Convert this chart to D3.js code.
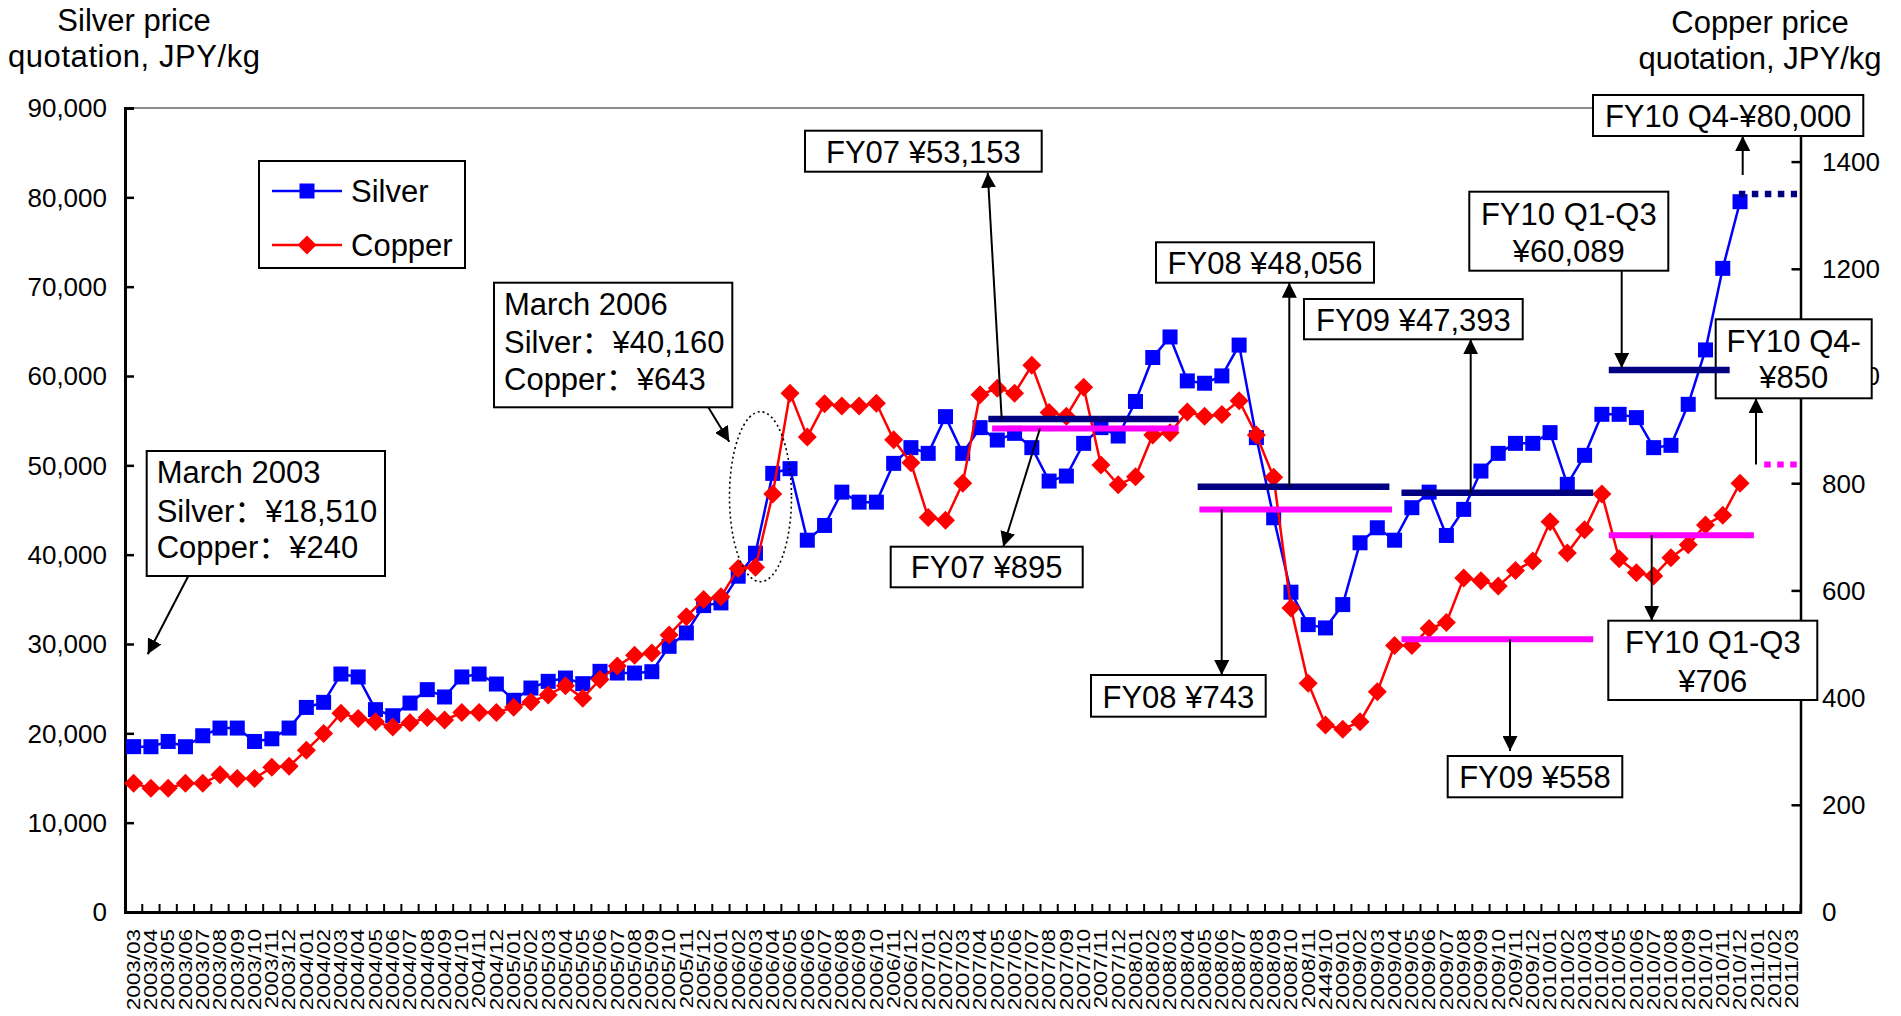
<!DOCTYPE html>
<html><head><meta charset="utf-8">
<script src="https://cdn.jsdelivr.net/npm/d3@7"></script>
<style>
html,body{margin:0;padding:0;background:#fff;}
svg{display:block;}
text{font-family:"Liberation Sans",Arial,"Noto Sans CJK SC",sans-serif;fill:#000;}
</style>
</head><body>
<svg id="chart" width="1901" height="1016"></svg>
<script>
// ---------------- data ----------------
const months = [
"2003/03","2003/04","2003/05","2003/06","2003/07","2003/08","2003/09","2003/10","2003/11","2003/12",
"2004/01","2004/02","2004/03","2004/04","2004/05","2004/06","2004/07","2004/08","2004/09","2004/10","2004/11","2004/12",
"2005/01","2005/02","2005/03","2005/04","2005/05","2005/06","2005/07","2005/08","2005/09","2005/10","2005/11","2005/12",
"2006/01","2006/02","2006/03","2006/04","2006/05","2006/06","2006/07","2006/08","2006/09","2006/10","2006/11","2006/12",
"2007/01","2007/02","2007/03","2007/04","2007/05","2007/06","2007/07","2007/08","2007/09","2007/10","2007/11","2007/12",
"2008/01","2008/02","2008/03","2008/04","2008/05","2008/06","2008/07","2008/08","2008/09","2008/10","2008/11","2449/10",
"2009/01","2009/02","2009/03","2009/04","2009/05","2009/06","2009/07","2009/08","2009/09","2009/10","2009/11","2009/12",
"2010/01","2010/02","2010/03","2010/04","2010/05","2010/06","2010/07","2010/08","2010/09","2010/10","2010/11","2010/12",
"2011/01","2011/02","2011/03"];

const silver = [
18510,18500,19090,18500,19730,20590,20590,19090,19390,20590,
22900,23470,26640,26310,22650,21970,23390,24890,24070,26310,26640,25520,
23700,25070,25820,26190,25560,26940,26750,26750,26900,29740,31240,34300,
34600,37590,40160,49100,49630,41620,43270,47000,45880,45880,50220,51980,
51340,55450,51340,54220,52830,53580,51980,48240,48800,52460,54220,53280,
57150,62070,64370,59450,59190,60010,63460,53100,44130,35800,32170,31800,
34410,41330,43010,41620,45260,47000,42150,45070,49360,51340,52460,52460,
53660,47870,51120,55710,55710,55340,51980,52240,56830,62920,72050,79510];

const copper = [
240,231,231,240,240,256,249,249,270,272,
302,333,371,361,355,345,353,363,358,372,372,372,
382,392,405,422,399,434,459,479,483,517,551,583,
588,641,643,780,968,886,948,944,944,949,881,838,
736,731,800,965,977,968,1020,932,925,979,834,797,
812,890,894,933,925,928,954,890,811,567,427,349,
341,355,411,497,497,529,540,623,618,608,637,655,
728,670,713,780,659,633,627,661,685,722,740,800];

const silverTicks = [0,10000,20000,30000,40000,50000,60000,70000,80000,90000];
const copperTicks = [0,200,400,600,800,1000,1200,1400];

// period average lines as drawn in the picture (fractional category spans)
const periods        = ["FY07","FY08","FY09","FY10 Q1-Q3","FY10 Q4"];
const silverAvgDrawn = [55200, 47610, 46940, 60680, 80380];
const silverAvgFrom  = [49.48, 61.6, 73.4, 85.4, 92.93];
const silverAvgTo    = [60.5, 72.7, 84.5, 92.4, 96.3];
const copperAvgDrawn = [902, 751, 509, 703, 835];
const copperAvgFrom  = [49.7, 61.7, 73.4, 85.4, 94.4];
const copperAvgTo    = [60.5, 72.85, 84.5, 93.8, 96.3];

// ---------------- chart ----------------
const svg = d3.select("#chart");
const X0 = 125, X1 = 1800.5, Y0 = 912, Y1 = 108;

const x = d3.scaleBand().domain(d3.range(months.length)).range([X0, X1]).padding(0);
const xf = d3.scaleLinear().domain([-0.5, months.length - 0.5]).range([X0, X1]);
const yS = d3.scaleLinear().domain([0, 90000]).range([Y0, Y1]);
const yC = d3.scaleLinear().domain([0, 1500]).range([Y0, Y1]);
const cx = i => x(i) + x.bandwidth() / 2;

const defs = svg.append("defs");
defs.append("marker").attr("id","arr").attr("viewBox","0 0 10 10")
  .attr("refX",10).attr("refY",5).attr("markerWidth",15).attr("markerHeight",15)
  .attr("markerUnits","userSpaceOnUse").attr("orient","auto")
  .append("path").attr("d","M0,0 L10,5 L0,10 z").attr("fill","#000");

// top border
svg.append("line").attr("x1",X0).attr("x2",X1).attr("y1",Y1).attr("y2",Y1)
  .attr("stroke","#8c8c8c").attr("stroke-width",2);

// left axis
const gL = svg.append("g").attr("transform",`translate(${X0},0)`)
  .call(d3.axisRight(yS).tickValues(silverTicks).tickSize(9).tickFormat(""));
gL.select(".domain").attr("stroke","#000").attr("stroke-width",3);
gL.selectAll(".tick line").attr("stroke","#000").attr("stroke-width",2.5);
svg.append("g").selectAll("text").data(silverTicks).join("text")
  .attr("x",107).attr("y",d=>yS(d)).attr("dy","0.36em").attr("text-anchor","end")
  .attr("font-size",26).text(d=>d3.format(",")(d));

// right axis
const gR = svg.append("g").attr("transform",`translate(${X1},0)`)
  .call(d3.axisLeft(yC).tickValues(copperTicks).tickSize(9).tickFormat(""));
gR.select(".domain").attr("stroke","#000").attr("stroke-width",2.5);
gR.selectAll(".tick line").attr("stroke","#000").attr("stroke-width",2.5);
svg.append("g").selectAll("text").data(copperTicks).join("text")
  .attr("x",1822).attr("y",d=>yC(d)).attr("dy","0.36em").attr("text-anchor","start")
  .attr("font-size",26).text(d=>d);

// bottom axis
const gB = svg.append("g").attr("transform",`translate(0,${Y0})`)
  .call(d3.axisTop(x).tickSize(0).tickFormat(""));
gB.select(".domain").attr("stroke","#000").attr("stroke-width",3);
const bounds = d3.range(months.length + 1);
svg.append("g").selectAll("line").data(bounds).join("line")
  .attr("x1",d=>xf(d-0.5)).attr("x2",d=>xf(d-0.5)).attr("y1",Y0).attr("y2",Y0-8)
  .attr("stroke","#000").attr("stroke-width",2);
svg.append("g").selectAll("text").data(months).join("text")
  .attr("transform",(d,i)=>`translate(${cx(i)},929) rotate(-90) scale(1.25,1)`)
  .attr("text-anchor","end").attr("dy","0.35em").attr("font-size",18).text(d=>d);

// axis titles
const titleL = svg.append("text").attr("text-anchor","middle").attr("font-size",31);
titleL.append("tspan").attr("x",134).attr("y",31).text("Silver price");
titleL.append("tspan").attr("x",134).attr("y",67).attr("textLength",252).text("quotation, JPY/kg");
const titleR = svg.append("text").attr("text-anchor","middle").attr("font-size",31);
titleR.append("tspan").attr("x",1760).attr("y",33).text("Copper price");
titleR.append("tspan").attr("x",1760).attr("y",69).text("quotation, JPY/kg");

// series
const lineS = d3.line().x((d,i)=>cx(i)).y(d=>yS(d));
const lineC = d3.line().x((d,i)=>cx(i)).y(d=>yC(d));
svg.append("path").datum(silver).attr("d",lineS).attr("fill","none")
  .attr("stroke","#0000ff").attr("stroke-width",2.5);
svg.append("g").selectAll("rect").data(silver).join("rect")
  .attr("x",(d,i)=>cx(i)-7.5).attr("y",d=>yS(d)-7.5).attr("width",15).attr("height",15)
  .attr("fill","#0000ff");
svg.append("path").datum(copper).attr("d",lineC).attr("fill","none")
  .attr("stroke","#ff0000").attr("stroke-width",2.5);
const dia = r => `M0,${-r} L${r},0 L0,${r} L${-r},0 Z`;
svg.append("g").selectAll("path").data(copper).join("path")
  .attr("transform",(d,i)=>`translate(${cx(i)},${yC(d)})`).attr("d",dia(9.5))
  .attr("fill","#ff0000");

// legend
const lg = svg.append("g");
lg.append("rect").attr("x",259).attr("y",161).attr("width",206).attr("height",107)
  .attr("fill","#fff").attr("stroke","#000").attr("stroke-width",2);
lg.append("line").attr("x1",272).attr("x2",342).attr("y1",191).attr("y2",191)
  .attr("stroke","#0000ff").attr("stroke-width",2.5);
lg.append("rect").attr("x",299.5).attr("y",183.5).attr("width",15).attr("height",15).attr("fill","#0000ff");
lg.append("text").attr("x",351).attr("y",202).attr("font-size",31).text("Silver");
lg.append("line").attr("x1",272).attr("x2",342).attr("y1",245).attr("y2",245)
  .attr("stroke","#ff0000").attr("stroke-width",2.5);
lg.append("path").attr("transform","translate(307,245)").attr("d",dia(9.5)).attr("fill","#ff0000");
lg.append("text").attr("x",351).attr("y",256).attr("font-size",31).text("Copper");

// dotted ellipse (March 2006)
svg.append("ellipse").attr("cx",760.5).attr("cy",496.7).attr("rx",31).attr("ry",85)
  .attr("fill","none").attr("stroke","#000").attr("stroke-width",1.6).attr("stroke-dasharray","2,3");

// annotation boxes
function box(x0,y0,x1,y1,lines,anchor,tx){
  const g = svg.append("g");
  g.append("rect").attr("x",x0).attr("y",y0).attr("width",x1-x0).attr("height",y1-y0)
    .attr("fill","#fff").attr("stroke","#000").attr("stroke-width",2);
  lines.forEach(l=>{
    g.append("text").attr("x",anchor==="middle"?(x0+x1)/2:tx).attr("y",l[1])
      .attr("text-anchor",anchor).attr("font-size",31).text(l[0]);
  });
}
box(146.7,451,385,576,[["March 2003",483.3],["Silver：¥18,510",521.7],["Copper：¥240",558.3]],"start",156.7);
box(494,282.7,732.3,407.3,[["March 2006",315],["Silver：¥40,160",352.7],["Copper：¥643",390]],"start",504);
box(805,130.7,1041.7,171.7,[["FY07 ¥53,153",163.3]],"middle");
box(890.7,546.7,1082.7,587.3,[["FY07 ¥895",578]],"middle");
box(1156,242.3,1374,282.7,[["FY08 ¥48,056",274.3]],"middle");
box(1091,675,1265.7,716.7,[["FY08 ¥743",707.7]],"middle");
box(1304,299,1522.7,339.3,[["FY09 ¥47,393",330.7]],"middle");
box(1447.7,756,1622.3,797.3,[["FY09 ¥558",788.3]],"middle");
box(1469.3,191.7,1668.3,270.7,[["FY10 Q1-Q3",225],["¥60,089",262]],"middle");
box(1608.3,620.7,1817.3,700,[["FY10 Q1-Q3",653.3],["¥706",691.7]],"middle");
box(1593,95,1863.3,136,[["FY10 Q4-¥80,000",126.7]],"middle");
box(1715.7,319.3,1871.7,398.3,[["FY10 Q4-",351.7],["¥850",388.3]],"middle");

// period average lines
periods.forEach((p,k)=>{
  const dotted = k === periods.length - 1;
  svg.append("line").attr("x1",xf(silverAvgFrom[k])).attr("x2",xf(silverAvgTo[k]))
    .attr("y1",yS(silverAvgDrawn[k])).attr("y2",yS(silverAvgDrawn[k]))
    .attr("stroke","#000080").attr("stroke-width",6.5)
    .attr("stroke-dasharray",dotted?"6.5,6.5":null);
  svg.append("line").attr("x1",xf(copperAvgFrom[k])).attr("x2",xf(copperAvgTo[k]))
    .attr("y1",yC(copperAvgDrawn[k])).attr("y2",yC(copperAvgDrawn[k]))
    .attr("stroke","#ff00ff").attr("stroke-width",6)
    .attr("stroke-dasharray",dotted?"6.5,6.5":null);
});

// arrows
function arrow(xa,ya,xb,yb){
  svg.append("line").attr("x1",xa).attr("y1",ya).attr("x2",xb).attr("y2",yb)
    .attr("stroke","#000").attr("stroke-width",2).attr("marker-end","url(#arr)");
}
arrow(188.3,576,147.7,654.3);
arrow(708.3,407.3,729.3,441.7);
arrow(1001.7,yS(silverAvgDrawn[0]),987.7,172.7);
arrow(1040,yC(copperAvgDrawn[0]),1003.3,546.7);
arrow(1289.3,yS(silverAvgDrawn[1]),1289.3,282.7);
arrow(1221.7,yC(copperAvgDrawn[1]),1221.7,675);
arrow(1470.7,yS(silverAvgDrawn[2]),1470.7,339.3);
arrow(1510,yC(copperAvgDrawn[2]),1510,751);
arrow(1621.7,270.7,1621.7,yS(silverAvgDrawn[3])-2);
arrow(1651.7,yC(copperAvgDrawn[3]),1651.7,620.7);
arrow(1742.7,175,1742.7,136);
arrow(1756,yC(copperAvgDrawn[4]),1756,398.3);
</script>
</body></html>
